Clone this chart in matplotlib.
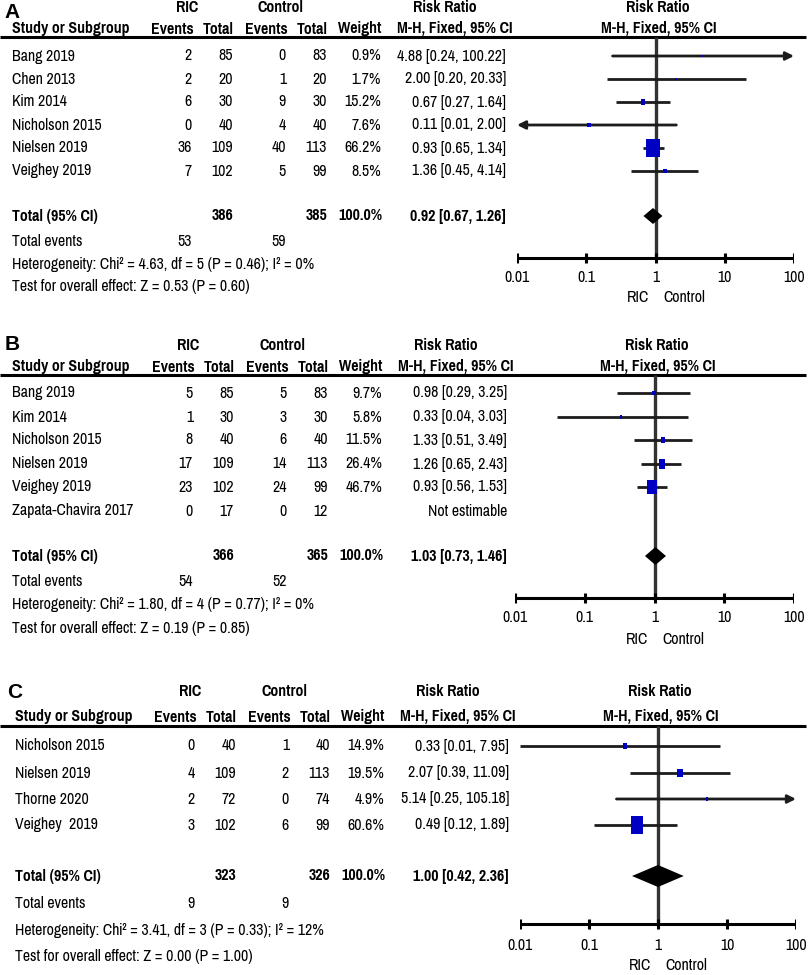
import matplotlib
matplotlib.use('Agg')
import matplotlib.pyplot as plt
from matplotlib import font_manager

# ---- panel A data
a_studies = ['Bang 2019', 'Chen 2013', 'Kim 2014', 'Nicholson 2015', 'Nielsen 2019', 'Veighey 2019']
a_ric_events = [2, 2, 6, 0, 36, 7]
a_ric_total = [85, 20, 30, 40, 109, 102]
a_ctl_events = [0, 1, 9, 4, 40, 5]
a_ctl_total = [83, 20, 30, 40, 113, 99]
a_weight = [0.9, 1.7, 15.2, 7.6, 66.2, 8.5]
a_rr = [4.88, 2.00, 0.67, 0.11, 0.93, 1.36]
a_lo = [0.24, 0.20, 0.27, 0.01, 0.65, 0.45]
a_hi = [100.22, 20.33, 1.64, 2.00, 1.34, 4.14]
a_lo_clipped = [False, False, False, True, False, False]
a_pooled = [0.92, 0.67, 1.26]
a_totals = [386, 385]
a_total_events = [53, 59]
a_het = [4.63, 5, 0.46, 0]   # chi2, df, P, I2
a_overall = [0.53, 0.60]     # Z, P

# ---- panel B data
b_studies = ['Bang 2019', 'Kim 2014', 'Nicholson 2015', 'Nielsen 2019', 'Veighey 2019', 'Zapata-Chavira 2017']
b_ric_events = [5, 1, 8, 17, 23, 0]
b_ric_total = [85, 30, 40, 109, 102, 17]
b_ctl_events = [5, 3, 6, 14, 24, 0]
b_ctl_total = [83, 30, 40, 113, 99, 12]
b_weight = [9.7, 5.8, 11.5, 26.4, 46.7, None]
b_rr = [0.98, 0.33, 1.33, 1.26, 0.93, None]
b_lo = [0.29, 0.04, 0.51, 0.65, 0.56, None]
b_hi = [3.25, 3.03, 3.49, 2.43, 1.53, None]
b_lo_clipped = [False] * 6
b_pooled = [1.03, 0.73, 1.46]
b_totals = [366, 365]
b_total_events = [54, 52]
b_het = [1.80, 4, 0.77, 0]
b_overall = [0.19, 0.85]

# ---- panel C data
c_studies = ['Nicholson 2015', 'Nielsen 2019', 'Thorne 2020', 'Veighey  2019']
c_ric_events = [0, 4, 2, 3]
c_ric_total = [40, 109, 72, 102]
c_ctl_events = [1, 2, 0, 6]
c_ctl_total = [40, 113, 74, 99]
c_weight = [14.9, 19.5, 4.9, 60.6]
c_rr = [0.33, 2.07, 5.14, 0.49]
c_lo = [0.01, 0.39, 0.25, 0.12]
c_hi = [7.95, 11.09, 105.18, 1.89]
c_lo_clipped = [False] * 4
c_pooled = [1.00, 0.42, 2.36]
c_totals = [323, 326]
c_total_events = [9, 9]
c_het = [3.41, 3, 0.33, 12]
c_overall = [0.00, 1.00]

ticks = [0.01, 0.1, 1, 10, 100]
tick_labels = ['0.01', '0.1', '1', '10', '100']

# fonts: prefer a narrow Arial-like face
installed = {f.name for f in font_manager.fontManager.ttflist}
FONT, FS = 'Liberation Sans', 9.6
for name in ['Liberation Sans Narrow', 'Arial Narrow', 'Pragati Narrow', 'PT Sans Narrow',
             'Roboto Condensed', 'Archivo Narrow', 'IBM Plex Sans Condensed']:
    if name in installed:
        FONT, FS = name, 12.4
        break
plt.rcParams['font.family'] = [FONT, 'DejaVu Sans']

W, H = 810, 975
fig = plt.figure(figsize=(W / 100, H / 100), dpi=100)
bg = fig.add_axes([0, 0, 1, 1])
bg.set_xlim(0, W)
bg.set_ylim(H, 0)
bg.axis('off')

LINE = '#1c1c1c'
VLINE = '#333333'
BLUE = '#0000c4'

panels = [
    dict(letter='A', studies=a_studies, re=a_ric_events, rt=a_ric_total, ce=a_ctl_events,
         ct=a_ctl_total, w=a_weight, rr=a_rr, lo=a_lo, hi=a_hi, clip=a_lo_clipped,
         pooled=a_pooled, totals=a_totals, tev=a_total_events, het=a_het, ov=a_overall,
         dx=0, name_x=12, head1=7, head2=29, hline=37, rows=[56, 79, 102, 125, 148, 171],
         total=216, tevy=241, hety=264, testy=287, axy=258, ticky=277, labely=298,
         fx=(517, 794), dia_h=16, letter_y=13),
    dict(letter='B', studies=b_studies, re=b_ric_events, rt=b_ric_total, ce=b_ctl_events,
         ct=b_ctl_total, w=b_weight, rr=b_rr, lo=b_lo, hi=b_hi, clip=b_lo_clipped,
         pooled=b_pooled, totals=b_totals, tev=b_total_events, het=b_het, ov=b_overall,
         dx=1, name_x=12, head1=345, head2=367, hline=375, rows=[393, 417, 440, 464, 487, 511],
         total=556, tevy=582, hety=605, testy=628, axy=598, ticky=617, labely=639,
         fx=(515, 794), dia_h=18, letter_y=344),
    dict(letter='C', studies=c_studies, re=c_ric_events, rt=c_ric_total, ce=c_ctl_events,
         ct=c_ctl_total, w=c_weight, rr=c_rr, lo=c_lo, hi=c_hi, clip=c_lo_clipped,
         pooled=c_pooled, totals=c_totals, tev=c_total_events, het=c_het, ov=c_overall,
         dx=3, name_x=15, head1=692, head2=717, hline=726, rows=[746, 773, 799, 825],
         total=876, tevy=904, hety=931, testy=957, axy=924, ticky=945, labely=966,
         fx=(520, 796), dia_h=22, letter_y=692),
]

for p in panels:
    dx = p['dx']
    bold = dict(fontsize=FS, fontweight='bold', va='center')
    norm = dict(fontsize=FS, va='center')
    bg.text(4 + dx, p['letter_y'], p['letter'], fontsize=15, fontweight='bold', va='center',
            family=['Liberation Sans', 'DejaVu Sans'])
    # header
    bg.text(187 + dx, p['head1'], 'RIC', ha='center', **bold)
    bg.text(281 + dx, p['head1'], 'Control', ha='center', **bold)
    bg.text(445 + dx, p['head1'], 'Risk Ratio', ha='center', **bold)
    bg.text(sum(p['fx']) / 2 + 2, p['head1'], 'Risk Ratio', ha='center', **bold)
    bg.text(p['name_x'], p['head2'], 'Study or Subgroup', ha='left', **bold)
    for cx, lab in zip([172, 218, 266, 312, 360, 455],
                       ['Events', 'Total', 'Events', 'Total', 'Weight', 'M-H, Fixed, 95% CI']):
        bg.text(cx + dx, p['head2'], lab, ha='center', **bold)
    bg.text(sum(p['fx']) / 2 + 3, p['head2'], 'M-H, Fixed, 95% CI', ha='center', **bold)
    bg.plot([0, 806], [p['hline'], p['hline']], color='black', lw=2.2, solid_capstyle='butt')

    # study rows
    for i, y in enumerate(p['rows']):
        bg.text(p['name_x'], y, p['studies'][i], ha='left', **norm)
        bg.text(192 + dx, y, str(p['re'][i]), ha='right', **norm)
        bg.text(233 + dx, y, str(p['rt'][i]), ha='right', **norm)
        bg.text(286 + dx, y, str(p['ce'][i]), ha='right', **norm)
        bg.text(327 + dx, y, str(p['ct'][i]), ha='right', **norm)
        if p['w'][i] is not None:
            bg.text(381 + dx, y, f"{p['w'][i]:.1f}%", ha='right', **norm)
            bg.text(506 + dx, y, f"{p['rr'][i]:.2f} [{p['lo'][i]:.2f}, {p['hi'][i]:.2f}]",
                    ha='right', **norm)
        else:
            bg.text(506 + dx, y, 'Not estimable', ha='right', **norm)

    # totals
    rr, lo, hi = p['pooled']
    bg.text(p['name_x'], p['total'], 'Total (95% CI)', ha='left', **bold)
    bg.text(233 + dx, p['total'], str(p['totals'][0]), ha='right', **bold)
    bg.text(327 + dx, p['total'], str(p['totals'][1]), ha='right', **bold)
    bg.text(383 + dx, p['total'], '100.0%', ha='right', **bold)
    bg.text(506 + dx, p['total'], f'{rr:.2f} [{lo:.2f}, {hi:.2f}]', ha='right', **bold)
    bg.text(p['name_x'], p['tevy'], 'Total events', ha='left', **norm)
    bg.text(192 + dx, p['tevy'], str(p['tev'][0]), ha='right', **norm)
    bg.text(286 + dx, p['tevy'], str(p['tev'][1]), ha='right', **norm)
    chi2, df, pv, i2 = p['het']
    bg.text(p['name_x'], p['hety'],
            f'Heterogeneity: Chi\u00b2 = {chi2:.2f}, df = {df} (P = {pv:.2f}); I\u00b2 = {i2}%',
            ha='left', **norm)
    z, pz = p['ov']
    bg.text(p['name_x'], p['testy'], f'Test for overall effect: Z = {z:.2f} (P = {pz:.2f})',
            ha='left', **norm)

    # forest plot axes (log x, pixel y)
    x0, x1 = p['fx']
    ax = fig.add_axes([x0 / W, 0, (x1 - x0) / W, 1])
    ax.set_xscale('log')
    ax.set_xlim(0.01, 100)
    ax.set_ylim(H, 0)
    ax.axis('off')
    ax.patch.set_alpha(0)

    ax.plot([1, 1], [p['hline'], p['axy']], color=VLINE, lw=2.4, solid_capstyle='butt', zorder=2)
    for i, y in enumerate(p['rows']):
        if p['rr'][i] is None:
            continue
        l, h = p['lo'][i], p['hi'][i]
        if h > 100:
            ax.annotate('', xy=(100, y), xytext=(l, y),
                        arrowprops=dict(arrowstyle='-|>', color=LINE, lw=2, mutation_scale=12,
                                        shrinkA=0, shrinkB=0), zorder=3)
        elif p['clip'][i]:
            ax.annotate('', xy=(0.01, y), xytext=(h, y),
                        arrowprops=dict(arrowstyle='-|>', color=LINE, lw=2, mutation_scale=12,
                                        shrinkA=0, shrinkB=0), zorder=3)
        else:
            ax.plot([l, h], [y, y], color=LINE, lw=2, solid_capstyle='butt', zorder=3)
        side = 1.9 + 0.183 * p['w'][i]
        ms = side * 1.35 * 0.72
        ax.plot([p['rr'][i]], [y], linestyle='none', color=BLUE, markeredgewidth=0,
                marker=[(-0.37, -0.5), (0.37, -0.5), (0.37, 0.5), (-0.37, 0.5), (-0.37, -0.5)],
                markersize=ms, zorder=4)
    # pooled diamond
    ty, dh = p['total'], p['dia_h'] / 2
    ax.fill([lo, rr, hi, rr], [ty, ty - dh, ty, ty + dh], color='black', lw=0, zorder=4)

    # x axis
    ax.plot([0.01, 100], [p['axy'], p['axy']], color='black', lw=2.2, solid_capstyle='butt')
    for t, lab in zip(ticks, tick_labels):
        ax.plot([t, t], [p['axy'] - 5, p['axy'] + 5], color='black', lw=2.2,
                solid_capstyle='butt')
        ax.text(t, p['ticky'], lab, ha='center', **norm)
    ax.text(0.8, p['labely'], 'RIC', ha='right', **norm)
    ax.text(1.3, p['labely'], 'Control', ha='left', **norm)

fig.savefig('out.png', dpi=100)
